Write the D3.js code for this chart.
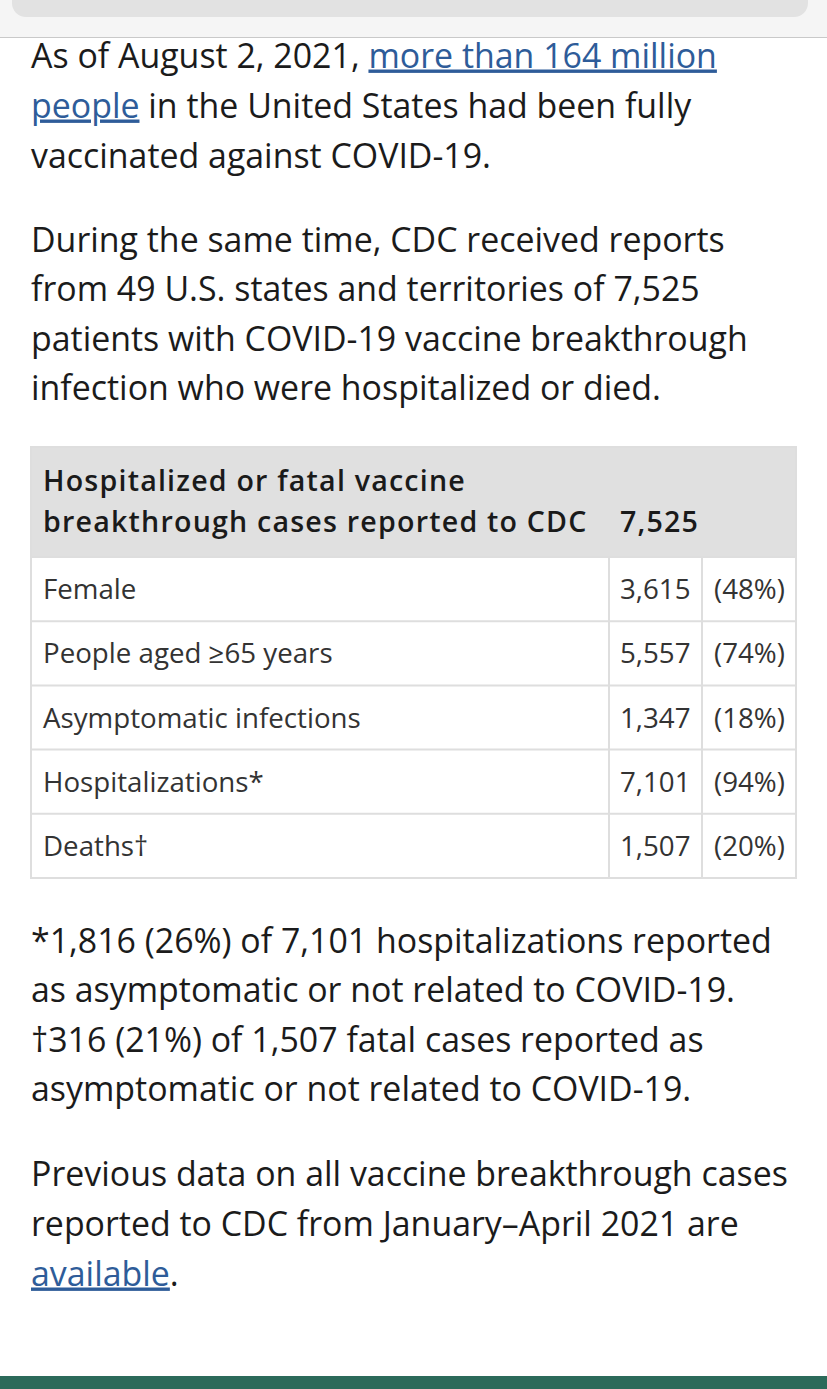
<!DOCTYPE html>
<html>
<head>
<meta charset="utf-8">
<script src="https://cdn.jsdelivr.net/npm/d3@7"></script>
<style>
html,body{margin:0;padding:0;background:#fff;}
svg{display:block;}
</style>
</head>
<body>
<div id="chart"></div>
<script>
// ---- data ----
const headerTitle = ["Hospitalized or fatal vaccine", "breakthrough cases reported to CDC"];
const headerTotal = "7,525";
const categories = ["Female", "People aged \u226565 years", "Asymptomatic infections", "Hospitalizations*", "Deaths\u2020"];
const counts = [3615, 5557, 1347, 7101, 1507];
const percents = [48, 74, 18, 94, 20];

const para1 = [
  [["As of August 2, 2021, ", false], ["more than 164 million", true]],
  [["people", true], [" in the United States had been fully", false]],
  [["vaccinated against COVID-19.", false]]
];
const para2 = [
  [["During the same time, CDC received reports", false]],
  [["from 49 U.S. states and territories of 7,525", false]],
  [["patients with COVID-19 vaccine breakthrough", false]],
  [["infection who were hospitalized or died.", false]]
];
const para3 = [
  [["*1,816 (26%) of 7,101 hospitalizations reported", false]],
  [["as asymptomatic or not related to COVID-19.", false]],
  [["\u2020316 (21%) of 1,507 fatal cases reported as", false]],
  [["asymptomatic or not related to COVID-19.", false]]
];
const para4 = [
  [["Previous data on all vaccine breakthrough cases", false]],
  [["reported to CDC from January\u2013April 2021 are", false]],
  [["available", true], [".", false]]
];

// ---- layout ----
const W = 827, H = 1389;
const FONT = "'Open Sans', sans-serif";
const svg = d3.select("#chart").append("svg").attr("width", W).attr("height", H);

// top bar
svg.append("rect").attr("x",0).attr("y",0).attr("width",W).attr("height",37).attr("fill","#f5f5f5");
svg.append("rect").attr("x",12).attr("y",-20).attr("width",796).attr("height",37).attr("rx",14).attr("fill","#e2e2e2");
svg.append("line").attr("x1",0).attr("x2",W).attr("y1",37.5).attr("y2",37.5).attr("stroke","#c9c9c9").attr("stroke-width",1);

function paragraph(lines, y0, lh){
  const g = svg.append("g");
  lines.forEach((segs, i) => {
    const t = g.append("text").attr("x", 31).attr("y", y0 + i*lh)
      .attr("font-family", FONT).attr("font-size", 33.9).attr("fill", "#1b1b1b");
    segs.forEach(([s, link]) => {
      const ts = t.append("tspan").text(s);
      if (link) ts.attr("fill", "#2e5c99").style("text-decoration", "underline");
    });
  });
}
paragraph(para1, 67.5, 50);
paragraph(para2, 251.5, 49.6);
paragraph(para3, 952.5, 49.6);
paragraph(para4, 1185.5, 50);

// table
const tx0 = 31, tx1 = 796, hy0 = 447, hy1 = 557, ty1 = 878;
const colX = [tx0, 609, 702, tx1];
const y = d3.scaleBand().domain(categories).range([hy1, ty1]);

const tg = svg.append("g");
tg.append("rect").attr("x",tx0).attr("y",hy0).attr("width",tx1-tx0).attr("height",hy1-hy0).attr("fill","#e0e0e0");
tg.append("rect").attr("x",tx0).attr("y",hy0).attr("width",tx1-tx0).attr("height",ty1-hy0)
  .attr("fill","none").attr("stroke","#dedede").attr("stroke-width",2);

// row lines
tg.selectAll("line.row").data(categories).join("line").attr("class","row")
  .attr("x1",tx0).attr("x2",tx1).attr("y1",d=>y(d)).attr("y2",d=>y(d))
  .attr("stroke","#dedede").attr("stroke-width",2);
// column lines
tg.selectAll("line.col").data([colX[1], colX[2]]).join("line").attr("class","col")
  .attr("x1",d=>d).attr("x2",d=>d).attr("y1",hy1).attr("y2",ty1)
  .attr("stroke","#dedede").attr("stroke-width",2);

// header text
tg.selectAll("text.h").data(headerTitle).join("text").attr("class","h")
  .attr("x",43).attr("y",(d,i)=>491 + i*41)
  .attr("font-family",FONT).attr("font-weight",600).attr("font-size",28.6).attr("letter-spacing",1.2)
  .attr("fill","#1a1a1a").text(d=>d);
tg.append("text").attr("x",620).attr("y",532)
  .attr("font-family",FONT).attr("font-weight",600).attr("font-size",28.6).attr("letter-spacing",1.2)
  .attr("fill","#1a1a1a").text(headerTotal);

const fmt = d3.format(",");
const rows = tg.selectAll("g.r").data(categories).join("g").attr("class","r")
  .attr("transform", d => `translate(0,${y(d) + y.bandwidth()/2 + 10})`);
rows.append("text").attr("x",43).attr("font-family",FONT).attr("font-size",27.7).attr("fill","#333")
  .text(d=>d);
rows.append("text").attr("x",620).attr("font-family",FONT).attr("font-size",27.7).attr("fill","#333")
  .text((d,i)=>fmt(counts[i]));
rows.append("text").attr("x",714).attr("font-family",FONT).attr("font-size",27.7).attr("fill","#333")
  .text((d,i)=>`(${percents[i]}%)`);

// bottom bar
svg.append("rect").attr("x",0).attr("y",1376).attr("width",W).attr("height",13).attr("fill","#2c6a5a");
</script>
</body>
</html>
